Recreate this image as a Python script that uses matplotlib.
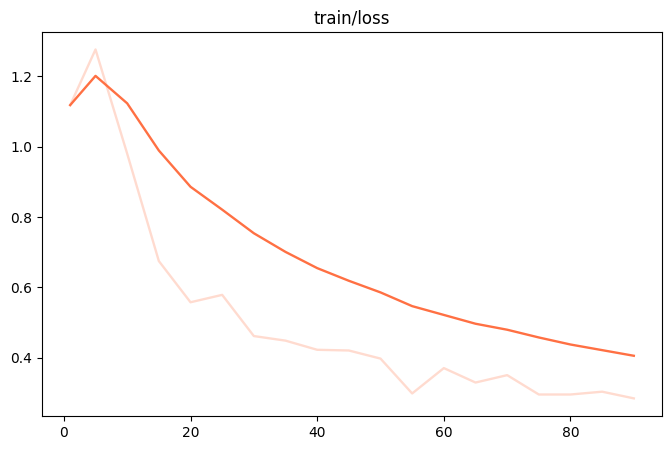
import matplotlib
matplotlib.use("Agg")
from matplotlib import pyplot as plt

# steps logged
steps = [1, 5, 10, 15, 20, 25, 30, 35, 40, 45, 50, 55, 60, 65, 70, 75, 80, 85, 90]

# raw loss values
raw_loss = [1.118, 1.276, 0.98, 0.675, 0.558, 0.579, 0.462, 0.449, 0.423, 0.421,
            0.398, 0.299, 0.371, 0.330, 0.351, 0.296, 0.296, 0.304, 0.285]

# smoothed loss values
smooth_loss = [1.118, 1.201, 1.123, 0.989, 0.886, 0.821, 0.754, 0.701, 0.655, 0.619,
               0.586, 0.547, 0.522, 0.497, 0.480, 0.458, 0.438, 0.422, 0.406]

color = '#ff7043'

fig = plt.figure(figsize=(6.71, 4.51), dpi=100)
ax = fig.add_axes([0.0626, 0.078, 0.924, 0.851])
ax.plot(steps, raw_loss, color=color, alpha=0.25, linewidth=1.7)
ax.plot(steps, smooth_loss, color=color, linewidth=1.7)
ax.set_title('train/loss')

fig.savefig('out.png', dpi=100)
